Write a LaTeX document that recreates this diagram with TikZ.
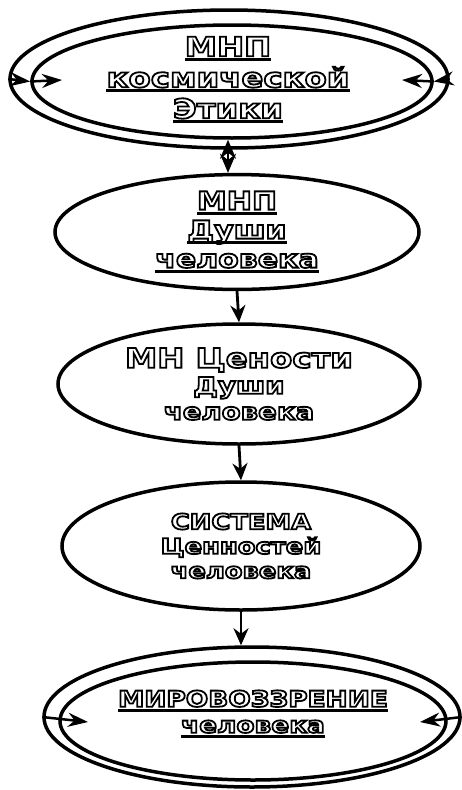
\documentclass[tikz,border=0pt]{standalone}
\usepackage{fontspec}
\setmainfont{DejaVu Sans}[FakeStretch=1.2]
\usetikzlibrary{shapes.geometric,arrows.meta}
% outlined letters: white fill, black stroke
\newcommand{\hollow}[1]{{\color{white}\special{pdf:literal direct 0 G 1.8 w 2 Tr}#1\special{pdf:literal direct 0 Tr}}}
\newcommand{\hollowu}[1]{\setbox0=\hbox{\hollow{#1}}\rlap{\copy0}\rule[-5pt]{\wd0}{3pt}}
\tikzset{
  oval/.style={ellipse, draw, line width=3.5pt, inner sep=0pt},
  ovaltext/.style={align=center},
  flow/.style={line width=2.8pt, -{Stealth[length=17pt,width=15pt]}},
  sideflow/.style={line width=2.5pt, -{Stealth[length=20pt,width=14pt]}},
}
\begin{document}
\begin{tikzpicture}[x=1pt,y=-1pt]
  \useasboundingbox (0,0) rectangle (462,790);
  % top double ellipse
  \node[oval, minimum width=438pt, minimum height=138pt] (outerE) at (229,79) {};
  \node[oval, minimum width=400pt, minimum height=113pt] (innerE) at (232,81.5) {};
  \node[ovaltext, font=\bfseries\fontsize{27}{31}\selectfont] (etika) at (228,80)
    {\hollowu{МНП}\\ \hollowu{космической}\\ \hollowu{Этики}};
  % middle ellipses
  \node[oval, minimum width=364pt, minimum height=110pt, ovaltext,
    font=\bfseries\fontsize{25}{29}\selectfont] (dusha) at (237,232)
    {\hollowu{МНП}\\ \hollowu{Души}\\ \hollowu{человека}};
  \node[oval, minimum width=362pt, minimum height=120pt, ovaltext,
    font=\bfseries\fontsize{23}{26}\selectfont] (cennost) at (239,384)
    {\hollow{\fontsize{27}{26}\selectfont МН Цености}\\ \hollow{Души}\\ \hollow{человека}};
  \node[oval, minimum width=358pt, minimum height=128pt, ovaltext,
    font=\bfseries\fontsize{21.5}{24.5}\selectfont] (sistema) at (241,546)
    {\hollow{СИСТЕМА}\\ \hollow{Ценностей}\\ \hollow{человека}};
  % bottom double ellipse
  \node[oval, minimum width=416pt, minimum height=140pt] (outerM) at (252,717) {};
  \node[oval, minimum width=386pt, minimum height=118pt] (innerM) at (253,721) {};
  \node[ovaltext, font=\bfseries\fontsize{22}{26}\selectfont] (mir) at (253,714)
    {\hollowu{МИРОВОЗЗРЕНИЕ}\\ \hollowu{человека}};
  % side arrows
  \coordinate (etikaL) at (62,80);
  \coordinate (etikaR) at (402,80);
  \coordinate (mirL) at (88,722);
  \coordinate (mirR) at (420,722);
  \draw[sideflow] (outerE.west) -- (innerE.west);
  \draw[sideflow] (innerE.west) -- (etikaL);
  \draw[sideflow] (outerE.east) -- (innerE.east);
  \draw[sideflow] (innerE.east) -- (etikaR);
  \draw[sideflow] (outerM.west) -- (mirL);
  \draw[sideflow] (outerM.east) -- (mirR);
  % vertical arrows
  \draw[line width=2.5pt, {Stealth[length=19pt,width=16pt]}-{Stealth[length=19pt,width=16pt]}]
    (innerE.south -| 228,0) -- (dusha.north -| 228,0);
  \draw[flow] (dusha.south) -- (cennost.north);
  \draw[flow] (cennost.south) -- (sistema.north);
  \draw[flow] (sistema.south) -- (outerM.north -| sistema.south);
\end{tikzpicture}
\end{document}
